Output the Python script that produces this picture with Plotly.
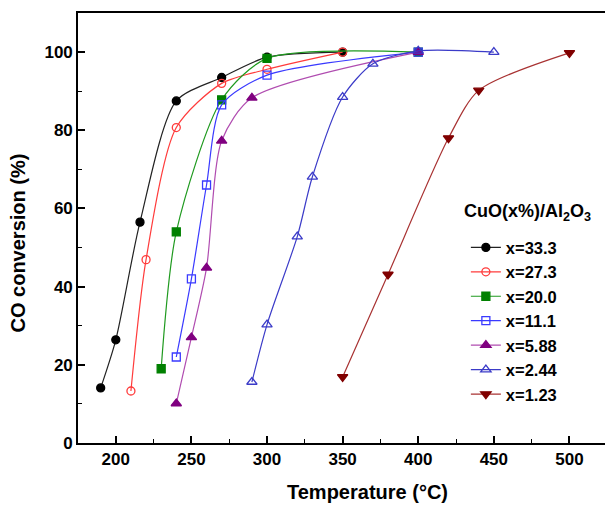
import plotly.graph_objects as go

# CO conversion (%) vs temperature (°C) for CuO(x%)/Al2O3 catalysts
t_333 = [190, 200, 216, 240, 270, 300, 350]
v_333 = [14.1, 26.4, 56.5, 87.5, 93.5, 98.7, 100]

t_273 = [210, 220, 240, 270, 300, 350]
v_273 = [13.3, 46.9, 80.7, 92.0, 95.6, 100]

t_200 = [230, 240, 270, 300, 400]
v_200 = [19.0, 54.0, 87.8, 98.4, 100]

t_111 = [240, 250, 260, 270, 300, 400]
v_111 = [22.0, 42.0, 66.0, 86.5, 94.1, 100]

t_588 = [240, 250, 260, 270, 290, 400]
v_588 = [10.1, 27.0, 44.8, 77.3, 88.3, 100]

t_244 = [290, 300, 320, 330, 350, 370, 400, 450]
v_244 = [15.6, 30.3, 52.8, 68.1, 88.5, 97.0, 100.3, 100]

t_123 = [350, 380, 420, 440, 500]
v_123 = [16.9, 43.1, 78.0, 90.2, 99.8]

series = [
    ("x=33.3", t_333, v_333, "#222222", "circle", 8, "#000000"),
    ("x=27.3", t_273, v_273, "#ff3b3b", "circle-open", 8, "#ff3b3b"),
    ("x=20.0", t_200, v_200, "#1f9a1f", "square", 8, "#008000"),
    ("x=11.1", t_111, v_111, "#3a3aff", "square-open", 8, "#3a3aff"),
    ("x=5.88", t_588, v_588, "#b04cb0", "triangle-up", 9, "#800080"),
    ("x=2.44", t_244, v_244, "#3b3bc8", "triangle-up-open", 9, "#3b3bc8"),
    ("x=1.23", t_123, v_123, "#a83232", "triangle-down", 9, "#800000"),
]

fig = go.Figure()
for name, t, v, lc, sym, size, mc in series:
    fig.add_trace(go.Scatter(
        x=t, y=v, name=name, mode="lines+markers",
        line=dict(color=lc, width=1.2, shape="spline", smoothing=0.75),
        marker=dict(symbol=sym, size=size, color=mc,
                    line=dict(color=mc, width=1.3)),
    ))

font_main = "Liberation Sans, Arial, sans-serif"
bold = dict(family=font_main, weight="bold", color="black")

fig.update_layout(
    width=605, height=505,
    margin=dict(l=78, r=0, t=13, b=62),
    plot_bgcolor="white", paper_bgcolor="white",
    font=dict(family=font_main, color="black"),
    showlegend=True,
    legend=dict(
        x=0.736, y=0.495, xanchor="left", yanchor="top",
        bgcolor="rgba(255,255,255,0)",
        font=dict(size=16.5, **bold),
    ),
    annotations=[
        dict(text="CuO(x%)/Al<sub>2</sub>O<sub>3</sub>", xref="paper", yref="paper",
             x=0.729, y=0.535, xanchor="left", yanchor="middle",
             showarrow=False, font=dict(size=18, **bold)),
        dict(text="Temperature (°C)", xref="paper", yref="paper",
             x=0.55, y=-0.115, xanchor="center", yanchor="middle",
             showarrow=False, font=dict(size=20, **bold)),
        dict(text="CO conversion (%)", xref="paper", yref="paper",
             x=-0.113, y=0.465, xanchor="center", yanchor="middle",
             textangle=-90, showarrow=False, font=dict(size=20, **bold)),
    ],
)

fig.update_xaxes(
    range=[175, 523.5],
    tickvals=[200, 250, 300, 350, 400, 450, 500],
    ticks="inside", ticklen=7, tickwidth=1.5, tickcolor="black",
    minor=dict(dtick=25, tick0=0, ticks="inside", ticklen=4, tickwidth=1.2, tickcolor="black"),
    showline=True, linecolor="black", linewidth=1.6, mirror=True,
    showgrid=False, zeroline=False,
    tickfont=dict(size=17, **bold),
)
fig.update_yaxes(
    range=[0, 110],
    tickvals=[0, 20, 40, 60, 80, 100],
    ticks="inside", ticklen=7, tickwidth=1.5, tickcolor="black",
    minor=dict(dtick=10, tick0=0, ticks="inside", ticklen=4, tickwidth=1.2, tickcolor="black"),
    showline=True, linecolor="black", linewidth=1.6, mirror=False,
    showgrid=False, zeroline=False,
    tickfont=dict(size=17, **bold),
)

fig.write_html("out.html")
